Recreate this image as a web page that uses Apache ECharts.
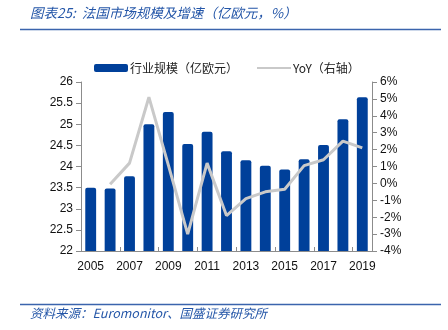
<!DOCTYPE html>
<html>
<head>
<meta charset="utf-8">
<script src="https://cdn.jsdelivr.net/npm/echarts@6/dist/echarts.min.js"></script>
<style>
  html, body { margin: 0; padding: 0; background: #fff; }
  #chart { width: 448px; height: 330px; }
</style>
</head>
<body>
<div id="chart"></div>
<script>
// France market size (bn EUR) and year-on-year growth (%)
const years = ['2005','2006','2007','2008','2009','2010','2011','2012','2013','2014','2015','2016','2017','2018','2019'];
const marketSize = [23.50, 23.48, 23.77, 25.00, 25.29, 24.53, 24.82, 24.36, 24.15, 24.02, 23.93, 24.17, 24.51, 25.12, 25.64];
const yoy = [null, -0.05, 1.2, 5.1, 1.1, -3.0, 1.2, -1.9, -0.9, -0.5, -0.35, 1.05, 1.4, 2.5, 2.1];
const leftTicks = [22, 22.5, 23, 23.5, 24, 24.5, 25, 25.5, 26];
const rightTicks = [-4, -3, -2, -1, 0, 1, 2, 3, 4, 5, 6];

const barColor = '#00409a';
const lineColor = '#c9c9c9';
const titleBlue = '#2456a8';
const axisGray = '#8c8c8c';
const labelFont = 'Liberation Sans';
const cjkFont = '"Noto Sans CJK SC"';

const chart = echarts.init(document.getElementById('chart'));
chart.setOption({
  animation: false,
  backgroundColor: '#fff',
  grid: { left: 81, right: 76, top: 82, bottom: 79, containLabel: false },
  legend: {
    top: 57,
    left: 89,
    itemWidth: 34,
    itemHeight: 8,
    itemGap: 18,
    textStyle: { fontFamily: cjkFont, fontSize: 12, color: '#222', padding: [0, 0, 0, -3] },
    data: [
      { name: '行业规模（亿欧元）', icon: 'roundRect' },
      { name: 'YoY（右轴）', itemStyle: { color: 'rgba(0,0,0,0)', borderWidth: 0 } }
    ]
  },
  xAxis: {
    type: 'category',
    data: years,
    boundaryGap: true,
    axisLine: { onZero: false, lineStyle: { color: axisGray, width: 1 } },
    axisTick: { show: true, inside: true, length: 4, lineStyle: { color: axisGray } },
    axisLabel: { interval: 1, color: '#111', fontFamily: labelFont, fontSize: 12, margin: 10 }
  },
  yAxis: [
    {
      type: 'value',
      min: leftTicks[0],
      max: leftTicks[leftTicks.length - 1],
      interval: 0.5,
      axisLine: { show: true, lineStyle: { color: axisGray } },
      axisTick: { show: true, length: 5, lineStyle: { color: axisGray } },
      splitLine: { show: false },
      axisLabel: { color: '#111', fontFamily: labelFont, fontSize: 12, margin: 8 }
    },
    {
      type: 'value',
      min: rightTicks[0],
      max: rightTicks[rightTicks.length - 1],
      interval: 1,
      position: 'right',
      axisLine: { show: true, lineStyle: { color: axisGray } },
      axisTick: { show: true, length: 5, lineStyle: { color: axisGray } },
      splitLine: { show: false },
      axisLabel: { color: '#111', fontFamily: labelFont, fontSize: 12, margin: 8, formatter: '{value}%' }
    }
  ],
  series: [
    {
      name: '行业规模（亿欧元）',
      type: 'bar',
      data: marketSize,
      barWidth: '56%',
      itemStyle: { color: barColor, borderRadius: [2, 2, 0, 0] }
    },
    {
      name: 'YoY（右轴）',
      type: 'line',
      yAxisIndex: 1,
      data: yoy,
      symbol: 'none',
      lineStyle: { color: lineColor, width: 3 },
      itemStyle: { color: lineColor }
    }
  ],
  graphic: [
    {
      type: 'text', left: 30, top: 6,
      style: {
        text: '图表25:  法国市场规模及增速（亿欧元，%）',
        fill: titleBlue, font: 'italic 13.5px "Noto Sans CJK SC"'
      }
    },
    {
      type: 'line', shape: { x1: 20, y1: 29.5, x2: 441, y2: 29.5 },
      style: { stroke: '#3b64ad', lineWidth: 1.6 }
    },
    {
      type: 'line', shape: { x1: 20, y1: 304.5, x2: 441, y2: 304.5 },
      style: { stroke: '#3b64ad', lineWidth: 1.6 }
    },
    {
      type: 'text', left: 30, top: 307,
      style: {
        text: '资料来源：Euromonitor、国盛证券研究所',
        fill: titleBlue, font: 'italic 12.5px "Noto Sans CJK SC"'
      }
    }
  ]
});
</script>
</body>
</html>
